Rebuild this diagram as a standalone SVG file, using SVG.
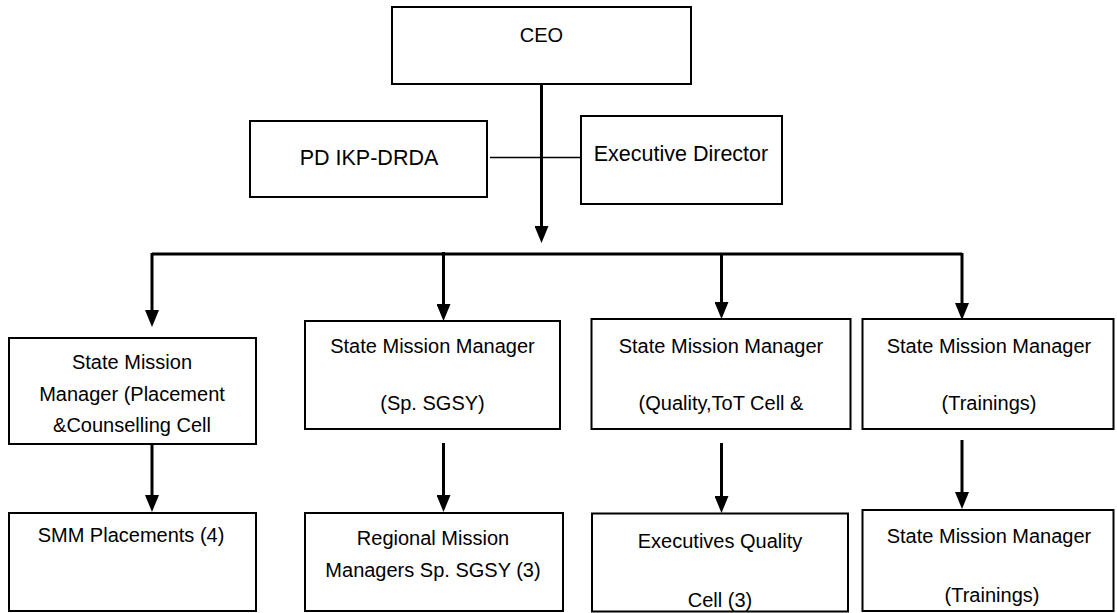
<svg xmlns="http://www.w3.org/2000/svg" width="1117" height="613" viewBox="0 0 1117 613">
  <style>
    .box { fill: #fff; stroke: #000; stroke-width: 2; }
    .lbl { font-family: "Liberation Sans", Arial, sans-serif; font-size: 20px; fill: #000; text-anchor: middle; }
    .big { font-size: 21.5px; }
    .wire { stroke: #000; stroke-width: 3; fill: none; }
    .thin { stroke: #000; stroke-width: 1.6; fill: none; }
    .arr { stroke: #000; stroke-width: 3; fill: none; marker-end: url(#head); }
  </style>
  <defs>
    <marker id="head" markerUnits="userSpaceOnUse" markerWidth="17" markerHeight="14" viewBox="0 0 17 14" refX="7" refY="7" orient="auto">
      <path d="M0,0 L17,7 L0,14 z" fill="#000"/>
    </marker>
  </defs>
  <rect width="1117" height="613" fill="#fff"/>

  <!-- connectors -->
  <g id="connectors">
    <!-- CEO down to the distribution bus -->
    <line class="arr" x1="541.5" y1="77" x2="541.5" y2="233"/>
    <!-- side link PD IKP-DRDA to Executive Director -->
    <line class="thin" x1="490" y1="157.5" x2="581" y2="157.5"/>
    <!-- horizontal bus -->
    <line class="wire" x1="152" y1="254" x2="962" y2="254"/>
    <!-- bus drops to the state mission managers -->
    <line class="arr" x1="152" y1="253" x2="152" y2="317"/>
    <line class="arr" x1="443.5" y1="252" x2="443.5" y2="311"/>
    <line class="arr" x1="721.5" y1="253" x2="721.5" y2="309"/>
    <line class="arr" x1="962" y1="253" x2="962" y2="310"/>
    <!-- managers down to their teams -->
    <line class="arr" x1="152" y1="445" x2="152" y2="502"/>
    <line class="arr" x1="443.5" y1="443" x2="443.5" y2="502"/>
    <line class="arr" x1="721.5" y1="443" x2="721.5" y2="503"/>
    <line class="arr" x1="962" y1="440" x2="962" y2="499"/>
  </g>

  <g id="ceo">
    <rect class="box" x="392" y="7" width="299" height="77"/>
    <text class="lbl" x="541.5" y="42">CEO</text>
  </g>

  <g id="pd-ikp-drda">
    <rect class="box" x="250" y="121" width="237" height="76"/>
    <text class="lbl big" x="369" y="165">PD IKP-DRDA</text>
  </g>

  <g id="executive-director">
    <rect class="box" x="581" y="116" width="201" height="88"/>
    <text class="lbl big" x="681" y="161">Executive Director</text>
  </g>

  <g id="smm-placement">
    <rect class="box" x="9" y="338" width="247" height="106"/>
    <text class="lbl" x="132" y="369">State Mission</text>
    <text class="lbl" x="132" y="401">Manager (Placement</text>
    <text class="lbl" x="132" y="432">&amp;Counselling Cell</text>
  </g>

  <g id="smm-sgsy">
    <rect class="box" x="305" y="321" width="255" height="108"/>
    <text class="lbl" x="432.5" y="353">State Mission Manager</text>
    <text class="lbl" x="432.5" y="410">(Sp. SGSY)</text>
  </g>

  <g id="smm-quality">
    <rect class="box" x="591.5" y="319" width="259" height="110"/>
    <text class="lbl" x="721" y="353">State Mission Manager</text>
    <text class="lbl" x="721" y="410">(Quality,ToT Cell &amp;</text>
  </g>

  <g id="smm-trainings">
    <rect class="box" x="862.5" y="319" width="251" height="110"/>
    <text class="lbl" x="989" y="353">State Mission Manager</text>
    <text class="lbl" x="989" y="410">(Trainings)</text>
  </g>

  <g id="smm-placements-team">
    <rect class="box" x="9" y="513" width="247" height="98"/>
    <text class="lbl" x="131" y="542">SMM Placements (4)</text>
  </g>

  <g id="regional-mission-managers">
    <rect class="box" x="305" y="513" width="258" height="98"/>
    <text class="lbl" x="433" y="545">Regional Mission</text>
    <text class="lbl" x="433" y="577">Managers Sp. SGSY (3)</text>
  </g>

  <g id="executives-quality">
    <rect class="box" x="592" y="513.5" width="256" height="98"/>
    <text class="lbl" x="720" y="548">Executives Quality</text>
    <text class="lbl" x="720" y="607">Cell (3)</text>
  </g>

  <g id="smm-trainings-team">
    <rect class="box" x="862.5" y="510" width="251" height="101"/>
    <text class="lbl" x="989" y="543">State Mission Manager</text>
    <text class="lbl" x="992" y="602">(Trainings)</text>
  </g>
</svg>
